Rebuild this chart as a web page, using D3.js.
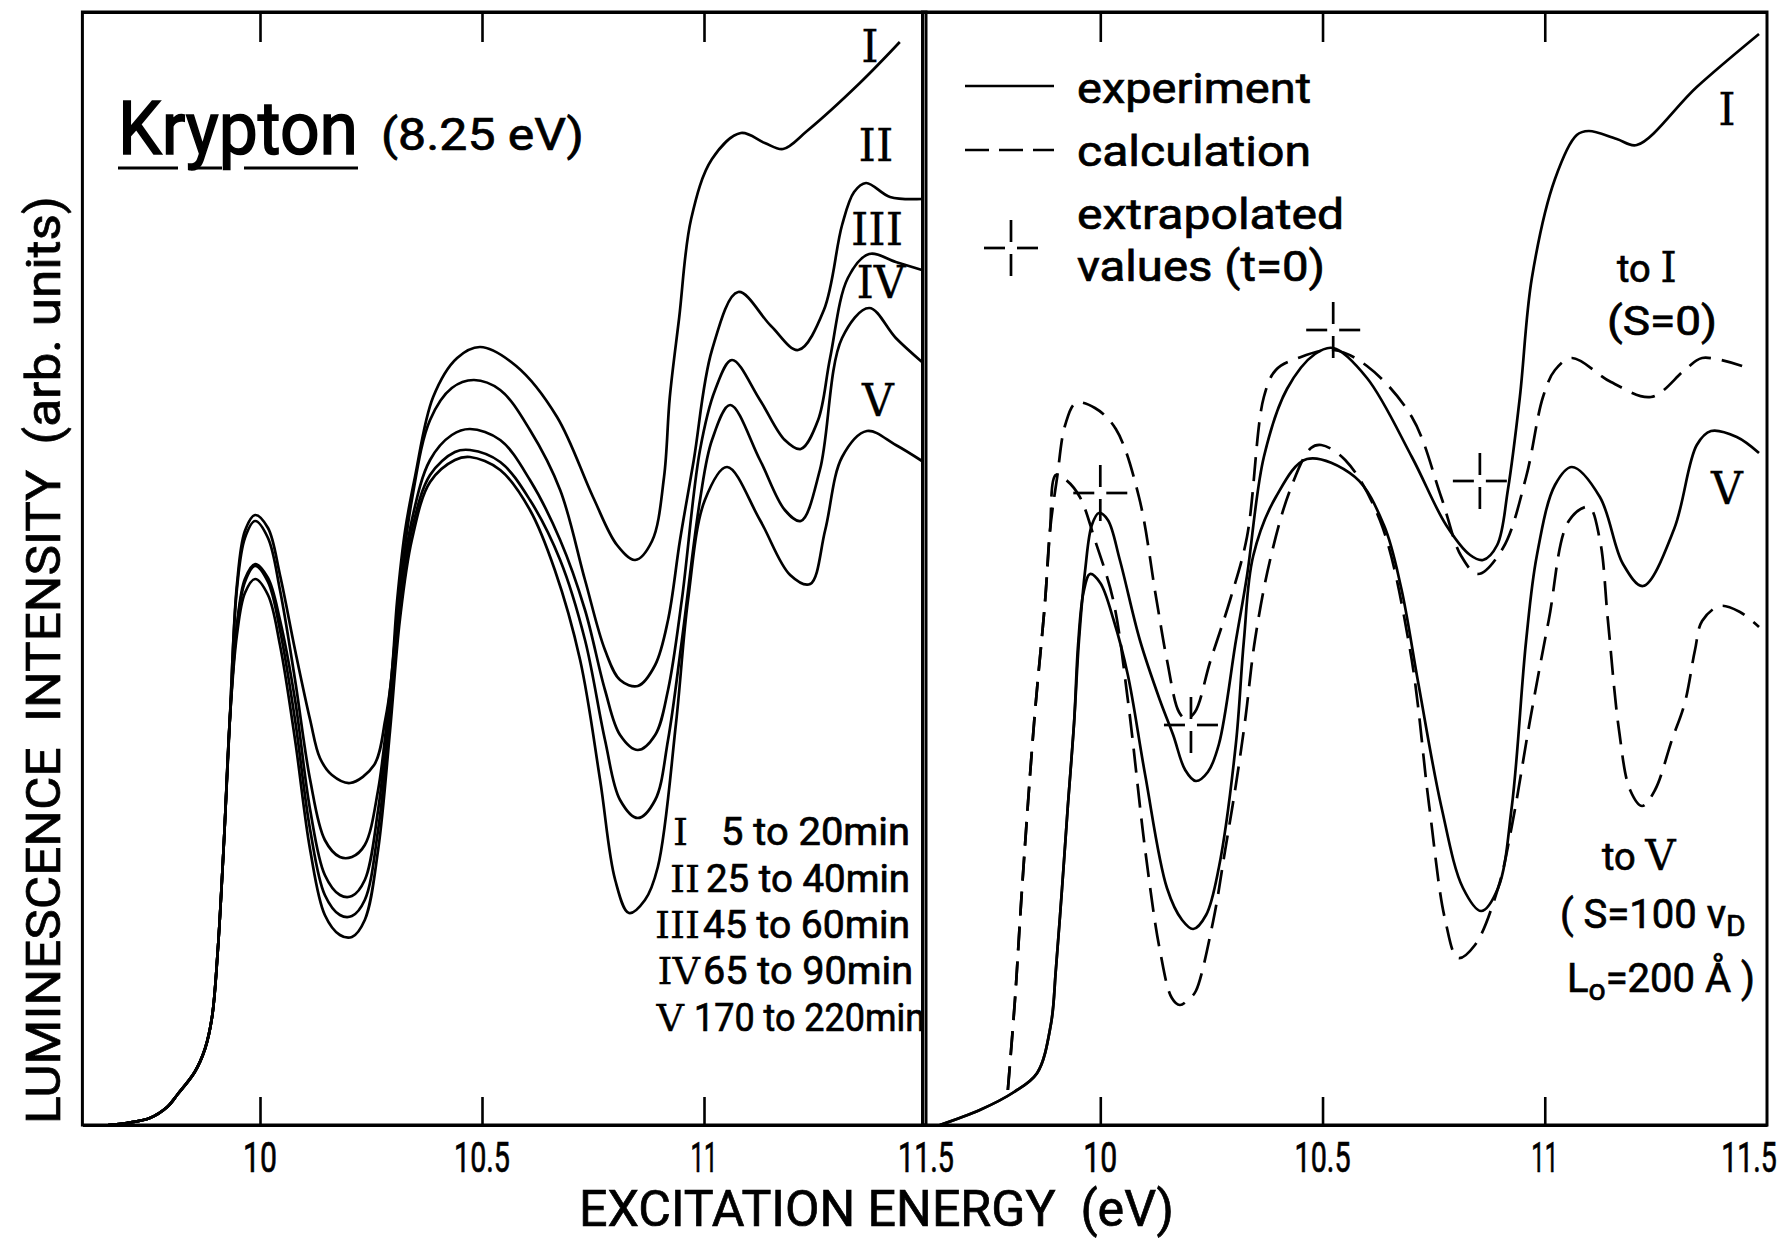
<!DOCTYPE html>
<html><head><meta charset="utf-8">
<script src="https://cdn.jsdelivr.net/npm/d3@7"></script>
<style>
html,body{margin:0;padding:0;background:#fff;}
text{font-family:"Liberation Sans Narrow","Arial Narrow","Roboto","Liberation Sans",sans-serif;fill:#000;white-space:pre;stroke:#000;stroke-width:0.7px;}
.serif{font-family:"DejaVu Serif","Liberation Serif",serif;stroke-width:0.3px;}
</style></head>
<body><svg id="c" width="1788" height="1242"></svg>
<script>
// ---------- data ----------
const xTicks = [10, 10.5, 11, 11.5];
const tickLabels = ["10", "10.5", "11", "11.5"];
const seriesNames = ["I", "II", "III", "IV", "V"];
const legendTimes = ["5 to 20min", "25 to 40min", "45 to 60min", "65 to 90min", "170 to 220min"];

// left panel: common onset shared by all five curves [eV, intensity]
const leftCommon = [[9.658,0],[9.700,0.2],[9.752,0.7],[9.791,1.8],[9.815,3.1],[9.853,5.3],[9.876,7.6],[9.892,10.8],[9.905,17.5],[9.919,28.5],[9.932,40.5]];
const leftI = [[9.948,54.0],[9.966,59.4],[9.989,61.0],[10.018,59.7],[10.045,55.0],[10.079,47.5],[10.113,40.5],[10.135,36.7],[10.162,35.0],[10.203,34.2],[10.257,36.0],[10.282,40.5],[10.295,44.3],[10.309,52.5],[10.327,59.5],[10.349,64.8],[10.390,72.8],[10.444,76.7],[10.496,77.8],[10.577,75.9],[10.669,70.8],[10.750,62.8],[10.804,58.0],[10.845,56.5],[10.883,58.4],[10.910,64.8],[10.923,72.8],[10.944,80.7],[10.971,90.6],[11.018,96.6],[11.083,99.2],[11.137,98.2],[11.178,97.6],[11.232,99.4],[11.351,104.2],[11.441,108.3]];
const leftII = [[9.948,53.6],[9.966,58.7],[9.989,60.4],[10.018,58.7],[10.045,53.5],[10.079,44.5],[10.113,34.5],[10.146,28.5],[10.180,26.8],[10.207,26.8],[10.236,28.0],[10.266,33.5],[10.293,43.5],[10.315,53.5],[10.342,62.5],[10.383,70.5],[10.432,73.7],[10.482,74.5],[10.541,73.5],[10.608,69.5],[10.676,63.5],[10.732,54.5],[10.777,47.5],[10.811,44.5],[10.851,43.9],[10.890,46.0],[10.919,50.5],[10.946,58.5],[10.977,66.5],[11.018,77.5],[11.077,83.3],[11.151,79.9],[11.212,77.5],[11.270,81.5],[11.311,90.0],[11.338,93.3],[11.365,94.2],[11.419,92.8],[11.491,92.6]];
const leftIII = [[9.948,50.0],[9.966,54.6],[9.989,56.1],[10.018,54.7],[10.045,50.5],[10.079,42.5],[10.113,31.5],[10.146,25.0],[10.180,23.0],[10.207,22.9],[10.236,24.5],[10.266,31.5],[10.293,42.5],[10.315,52.5],[10.342,60.5],[10.383,66.5],[10.432,69.0],[10.473,69.6],[10.541,68.5],[10.608,64.5],[10.676,58.5],[10.732,51.5],[10.777,43.5],[10.811,39.0],[10.851,37.5],[10.890,39.0],[10.919,43.5],[10.950,52.5],[10.991,67.5],[11.025,73.5],[11.063,76.5],[11.126,72.5],[11.182,68.5],[11.218,67.6],[11.257,70.5],[11.284,76.7],[11.324,84.7],[11.372,87.1],[11.432,86.3],[11.491,85.5]];
const leftIV = [[9.948,49.8],[9.966,54.3],[9.989,55.9],[10.018,54.3],[10.045,49.5],[10.079,40.5],[10.113,29.5],[10.146,23.0],[10.180,21.0],[10.207,20.9],[10.236,22.5],[10.266,29.5],[10.293,41.0],[10.315,51.5],[10.342,59.5],[10.383,65.0],[10.439,67.3],[10.473,67.5],[10.541,66.3],[10.608,62.5],[10.676,56.5],[10.732,48.5],[10.777,38.5],[10.811,32.5],[10.851,30.7],[10.890,32.5],[10.919,38.5],[10.950,48.4],[10.991,62.5],[11.018,68.5],[11.059,72.0],[11.126,66.5],[11.182,61.5],[11.218,60.4],[11.261,65.5],[11.311,78.7],[11.372,81.7],[11.432,78.7],[11.491,76.3]];
const leftV = [[9.948,49.0],[9.966,53.2],[9.989,54.6],[10.018,53.0],[10.045,48.0],[10.079,38.5],[10.113,27.5],[10.146,21.0],[10.180,19.0],[10.207,18.8],[10.236,20.5],[10.266,27.5],[10.293,39.5],[10.315,50.5],[10.342,58.5],[10.383,64.3],[10.439,66.5],[10.473,66.8],[10.541,65.5],[10.608,61.5],[10.664,55.5],[10.721,46.5],[10.766,34.5],[10.800,24.5],[10.831,21.2],[10.867,22.5],[10.896,25.8],[10.937,40.2],[10.964,52.5],[11.002,62.5],[11.052,65.8],[11.126,60.5],[11.194,55.0],[11.239,54.1],[11.273,59.5],[11.311,66.8],[11.367,69.4],[11.432,68.0],[11.491,66.4]];

// right panel: experiment (solid) and calculation (dashed)
const expCommon = [[9.639,0],[9.729,1.5],[9.806,3.3],[9.858,5.2],[9.889,10.1],[9.900,15.5],[9.914,23.7],[9.927,31.9],[9.941,40.2]];
const expI = [[9.952,48.4],[9.966,55.5],[9.981,60.0],[9.997,61.2],[10.017,60.5],[10.044,56.5],[10.089,48.5],[10.134,42.5],[10.164,39.0],[10.191,35.5],[10.215,34.4],[10.242,35.3],[10.267,38.1],[10.305,48.4],[10.330,54.9],[10.368,66.8],[10.420,73.6],[10.483,77.1],[10.524,77.7],[10.600,74.7],[10.701,66.8],[10.778,60.0],[10.832,57.0],[10.861,56.5],[10.893,58.0],[10.917,63.5],[10.944,72.8],[10.971,84.7],[11.023,94.6],[11.072,99.0],[11.099,99.4],[11.162,98.6],[11.207,98.0],[11.342,103.8],[11.482,109.1]];
const expV = [[9.950,48.0],[9.962,53.2],[9.977,55.1],[10.000,54.2],[10.030,50.5],[10.062,45.0],[10.101,35.0],[10.150,23.7],[10.184,20.5],[10.209,19.6],[10.238,21.0],[10.267,25.8],[10.305,38.1],[10.323,48.4],[10.344,56.9],[10.395,62.8],[10.465,66.6],[10.573,64.8],[10.638,60.0],[10.677,53.7],[10.715,44.3],[10.767,31.9],[10.816,23.7],[10.857,21.4],[10.895,23.7],[10.926,31.9],[10.958,48.4],[10.982,56.9],[11.023,64.0],[11.061,65.8],[11.124,62.8],[11.176,56.1],[11.221,53.9],[11.291,59.6],[11.342,68.0],[11.374,69.4],[11.432,68.8],[11.482,67.2]];
const calcCommon = [[9.792,3.5],[9.808,12.5],[9.824,23.7],[9.851,40.2],[9.876,52.5],[9.887,59.5]];
const calcI = [[9.903,64.8],[9.921,70.0],[9.945,72.2],[9.988,71.7],[10.035,69.6],[10.087,62.8],[10.125,52.9],[10.150,46.5],[10.177,41.3],[10.193,40.6],[10.213,41.3],[10.247,46.3],[10.292,52.5],[10.330,58.8],[10.368,72.8],[10.395,75.5],[10.445,76.7],[10.524,77.5],[10.600,75.9],[10.701,70.8],[10.767,62.8],[10.812,56.9],[10.850,55.1],[10.906,57.7],[10.958,64.8],[10.996,72.8],[11.023,75.5],[11.061,76.7],[11.149,74.3],[11.239,72.8],[11.315,75.5],[11.354,76.7],[11.444,75.9]];
const calcV = [[9.900,65.0],[9.923,64.5],[9.954,62.8],[9.988,58.5],[10.029,52.5],[10.062,42.5],[10.101,27.5],[10.134,17.5],[10.161,12.7],[10.179,12.0],[10.202,12.7],[10.215,13.4],[10.254,20.4],[10.281,27.5],[10.305,34.0],[10.326,40.5],[10.348,48.5],[10.382,56.5],[10.427,63.5],[10.474,67.7],[10.497,68.0],[10.551,66.5],[10.629,60.5],[10.697,47.5],[10.740,31.9],[10.776,20.5],[10.805,16.7],[10.843,18.0],[10.895,23.7],[10.926,29.9],[10.967,40.5],[11.009,50.5],[11.054,60.4],[11.099,61.8],[11.124,58.5],[11.142,50.5],[11.167,39.5],[11.192,33.5],[11.219,31.9],[11.248,33.5],[11.286,38.5],[11.315,42.2],[11.338,47.5],[11.354,50.4],[11.394,51.9],[11.439,51.3],[11.482,49.8]];
// extrapolated values (t=0)
const crossPoints = [[10.0,63.2],[10.204,40.0],[10.524,79.5],[10.854,64.4]];

// ---------- layout ----------
const svg = d3.select("#c");
const yTop = 12, yBot = 1125;
const y = d3.scaleLinear().domain([0, 111.3]).range([yBot, yTop]);
const xL = d3.scaleLinear().domain([9.6, 11.5]).range([82.4, 926]);
const xR = d3.scaleLinear().domain([9.6, 11.5]).range([922.5, 1767]);
const SW = 2.7;

function txt(g, s, x, yy, size, len, anchor, cls) {
  const t = g.append("text").attr("x", x).attr("y", yy).attr("font-size", size)
    .attr("text-anchor", anchor || "start").text(s);
  if (len) t.attr("textLength", len).attr("lengthAdjust", "spacingAndGlyphs");
  if (cls) t.attr("class", cls);
  return t;
}

// frames and ticks
[xL, xR].forEach(x => {
  svg.append("rect").attr("x", x.range()[0]).attr("y", yTop)
    .attr("width", x.range()[1] - x.range()[0]).attr("height", yBot - yTop)
    .attr("fill", "none").attr("stroke", "#000").attr("stroke-width", 3);
  const b = svg.append("g").attr("transform", `translate(0,${yBot})`)
    .call(d3.axisBottom(x).tickValues(xTicks.slice(0, 3)).tickSize(-28).tickSizeOuter(0).tickFormat(""));
  const t = svg.append("g").attr("transform", `translate(0,${yTop})`)
    .call(d3.axisTop(x).tickValues(xTicks.slice(0, 3)).tickSize(-30).tickSizeOuter(0).tickFormat(""));
  [b, t].forEach(a => { a.select(".domain").attr("stroke-width", 3); a.selectAll(".tick line").attr("stroke-width", 2.6); });
});

// tick labels
const tickW = {"10": 34, "10.5": 56, "11": 27, "11.5": 56};
xTicks.forEach((v, i) => {
  const w = tickW[tickLabels[i]];
  txt(svg, tickLabels[i], xL(v), 1172, 42, w, "middle");
  if (xR(v) + w / 2 > 1776) {
    // keep the last label inside the page, condensed by a transform
    svg.append("text").attr("font-size", 42).attr("text-anchor", "middle")
      .attr("transform", `translate(1749,1172) scale(0.68,1)`).text(tickLabels[i]);
  } else txt(svg, tickLabels[i], xR(v), 1172, 42, w, "middle");
});

// axis titles
txt(svg, "EXCITATION ENERGY  (eV)", 579, 1226, 50, 595, "start");
txt(svg, "LUMINESCENCE  INTENSITY  (arb. units)", 0, 0, 48, 928, "middle")
  .attr("transform", "translate(60,660) rotate(-90)");

// curves
const lineL = d3.line().x(d => xL(d[0])).y(d => y(d[1])).curve(d3.curveCatmullRom.alpha(0.5));
const lineR = d3.line().x(d => xR(d[0])).y(d => y(d[1])).curve(d3.curveCatmullRom.alpha(0.5));
const gL = svg.append("g").attr("fill", "none").attr("stroke", "#000").attr("stroke-width", SW).attr("stroke-linejoin", "round");
[leftI, leftII, leftIII, leftIV, leftV].forEach(s => gL.append("path").attr("d", lineL(leftCommon.concat(s))));

const gR = svg.append("g").attr("fill", "none").attr("stroke", "#000").attr("stroke-width", SW).attr("stroke-linejoin", "round");
[expI, expV].forEach(s => gR.append("path").attr("d", lineR(expCommon.concat(s))));
[calcI, calcV].forEach(s => gR.append("path").attr("d", lineR(calcCommon.concat(s))).attr("stroke-dasharray", "24,11"));

// crosses
function cross(g, cx, cy) {
  const segs = [[cx - 27, cy, cx - 6, cy], [cx + 6, cy, cx + 27, cy], [cx, cy - 28, cx, cy - 6], [cx, cy + 6, cx, cy + 28]];
  segs.forEach(s => g.append("line").attr("x1", s[0]).attr("y1", s[1]).attr("x2", s[2]).attr("y2", s[3])
    .attr("stroke", "#000").attr("stroke-width", SW));
}
crossPoints.forEach(p => cross(svg, xR(p[0]), y(p[1])));

// left panel texts
txt(svg, "Krypton", 118, 154, 74, 240, "start").style("stroke-width", "1.6px");
[[118, 178], [197, 222], [244, 358]].forEach(s =>
  svg.append("line").attr("x1", s[0]).attr("x2", s[1]).attr("y1", 168).attr("y2", 168).attr("stroke", "#000").attr("stroke-width", 3));
txt(svg, "(8.25 eV)", 381, 150, 44, 203, "start");

const romanPos = [[870, 62], [876, 161], [877, 245], [881, 298], [878, 416]];
seriesNames.forEach((n, i) => txt(svg, n, romanPos[i][0], romanPos[i][1], 44, null, "middle", "serif"));

const legY = [845, 892, 938, 984, 1031];
const legX = [[688, 721, 189], [700, 706, 204], [700, 703, 207], [700, 703, 210], [684, 694, 231]];
seriesNames.forEach((n, i) => {
  txt(svg, n, legX[i][0], legY[i], 38, null, "end", "serif");
  txt(svg, legendTimes[i], legX[i][1], legY[i], 38, legX[i][2], "start");
});

// right panel legend
svg.append("line").attr("x1", 965).attr("x2", 1054).attr("y1", 86).attr("y2", 86).attr("stroke", "#000").attr("stroke-width", SW);
svg.append("line").attr("x1", 965).attr("x2", 1054).attr("y1", 150).attr("y2", 150).attr("stroke", "#000").attr("stroke-width", SW).attr("stroke-dasharray", "24,10");
cross(svg, 1011, 248);
txt(svg, "experiment", 1077, 103, 42, 234, "start");
txt(svg, "calculation", 1077, 166, 42, 234, "start");
txt(svg, "extrapolated", 1077, 229, 42, 267, "start");
txt(svg, "values (t=0)", 1077, 281, 42, 248, "start");

// right panel annotations
txt(svg, "I", 1727, 125, 44, null, "middle", "serif");
txt(svg, "V", 1727, 504, 44, null, "middle", "serif");
const toI = txt(svg, "to ", 1617, 282, 38, null, "start");
toI.append("tspan").attr("class", "serif").attr("font-size", 42).text("I");
txt(svg, "(S=0)", 1607, 335, 40, 110, "start");
const toV = txt(svg, "to ", 1602, 870, 38, null, "start");
toV.append("tspan").attr("class", "serif").attr("font-size", 42).text("V");
const s100 = txt(svg, "( S=100 v", 1560, 928, 40, null, "start");
s100.append("tspan").attr("font-size", 30).attr("dy", 8).text("D");
const lo = txt(svg, "L", 1567, 992, 40, null, "start");
lo.append("tspan").attr("font-size", 30).attr("dy", 8).text("o");
lo.append("tspan").attr("dy", -8).text("=200 Å )");
</script></body></html>
